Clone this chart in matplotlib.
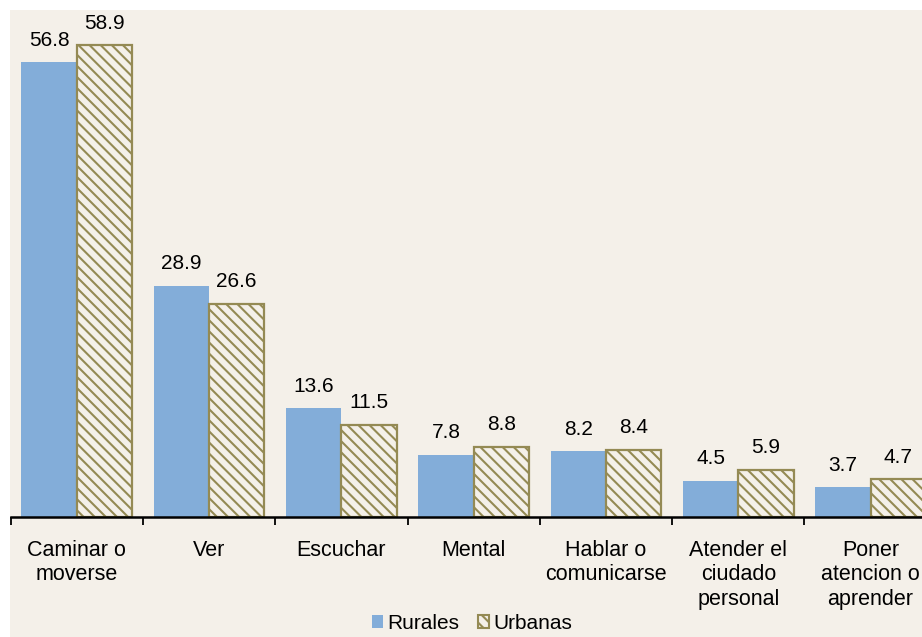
import matplotlib
matplotlib.use("Agg")
import matplotlib.pyplot as plt
from matplotlib.patches import Rectangle, Patch
import numpy as np

categories = ["Caminar o\nmoverse", "Ver", "Escuchar", "Mental", "Hablar o\ncomunicarse",
              "Atender el\nciudado\npersonal", "Poner\natencion o\naprender"]
rurales = [56.8, 28.9, 13.6, 7.8, 8.2, 4.5, 3.7]
urbanas = [58.9, 26.6, 11.5, 8.8, 8.4, 5.9, 4.7]
series_names = ["Rurales", "Urbanas"]

blue = "#83ADD9"
olive = "#948A54"
bg = "#F4F0E9"

plt.rcParams["font.family"] = ["Liberation Sans", "DejaVu Sans"]
plt.rcParams["hatch.linewidth"] = 1.5

W, H = 922, 637
fig = plt.figure(figsize=(W / 100, H / 100), dpi=100, facecolor="white")
fig.patches.append(Rectangle((10 / W, 0), 1 - 10 / W, (H - 10) / H, transform=fig.transFigure,
                             facecolor=bg, edgecolor="none", zorder=-10))

left_px, base_px, top_px = 10.6, 517, 10
cat_w = 132.3
n = len(categories)
ax = fig.add_axes([left_px / W, (H - base_px) / H, cat_w * n / W, (base_px - top_px) / H])
ax.set_facecolor("none")
ymax = (base_px - top_px) / 8.01
ax.set_xlim(0, n)
ax.set_ylim(0, ymax)

x = np.arange(n) + 0.5
bw = 0.418
hatch = "\\\\\\"
b1 = ax.bar(x - bw / 2, rurales, bw, color=blue, edgecolor="none", zorder=2)
b2 = ax.bar(x + bw / 2, urbanas, bw, color=bg, edgecolor=olive, hatch=hatch, linewidth=1.6, zorder=2)

for rect, v in list(zip(b1, rurales)) + list(zip(b2, urbanas)):
    ax.annotate(f"{v:.1f}", (rect.get_x() + rect.get_width() / 2, v), xytext=(0, 9),
                textcoords="offset points", ha="center", va="bottom", fontsize=15, color="black")

for s in ["top", "right", "left"]:
    ax.spines[s].set_visible(False)
ax.spines["bottom"].set_linewidth(1.8)
ax.spines["bottom"].set_color("black")
ax.set_yticks([])
ax.set_xticks(np.arange(n + 1))
ax.set_xticklabels([])
ax.tick_params(axis="x", direction="out", length=6, width=1.3, color="black")
ax.set_xticks(x, minor=True)
ax.set_xticklabels(categories, minor=True, fontsize=15.5, linespacing=1.22)
ax.tick_params(axis="x", which="minor", length=0, pad=16.5)

handles = [Patch(facecolor=blue, edgecolor="none"),
           Patch(facecolor=bg, edgecolor=olive, hatch=hatch, linewidth=1.5)]
fig.legend(handles, series_names, loc="upper center", bbox_to_anchor=(0.512, 0.036), ncol=2,
           frameon=False, fontsize=15, handlelength=0.55, handleheight=0.55, handletextpad=0.2,
           columnspacing=0.9, borderaxespad=0, borderpad=0)

fig.savefig("out.png", dpi=100, facecolor="white")
